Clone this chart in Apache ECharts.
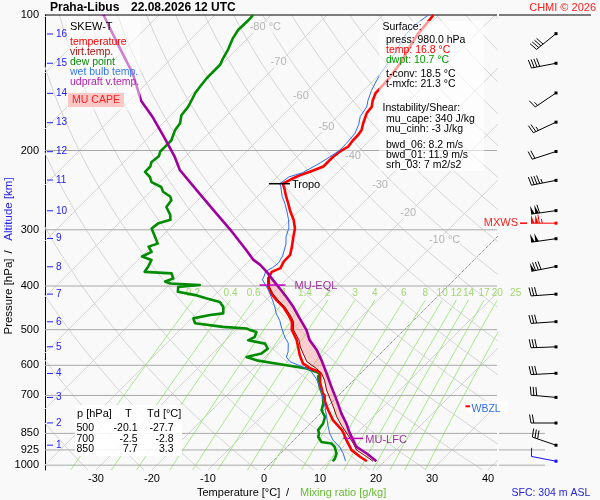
<!DOCTYPE html>
<html>
<head>
<meta charset="utf-8">
<script src="https://cdn.jsdelivr.net/npm/echarts@6.0.0/dist/echarts.min.js"></script>
<style>
html,body{margin:0;padding:0;background:#f9f9f9;}
#chart{width:600px;height:500px;}
</style>
</head>
<body>
<div id="chart"></div>
<script>
// ================= DATA =================
// temperature profile [hPa] / [°C]
const tempP = [980,958,926,880,850,836,794,755,723,700,692,657,624,617,611,594,570,546,527,500,480,464,445,430,416,401,384,372,365,353,341,327,311,298,285,273,262,253,245,237,232,227,223,217,207,201,196,190,185,180,174,165,160,155,149,147,137,128,118,110,104,100];
const tempT = [16.8,14.8,12.1,9.4,7.7,6.8,3.4,0.8,-1.3,-2.5,-3.2,-5.5,-7.3,-8.3,-9.7,-12.1,-14.1,-15.9,-17.4,-20.1,-21.5,-23.3,-25.7,-28.1,-30.2,-32.0,-33.5,-34.0,-33.1,-33.7,-33.75,-34.9,-36.4,-37.6,-39.4,-41.5,-43.3,-44.9,-46.25,-47.75,-47.1,-46.25,-45.05,-43.6,-43.6,-43.3,-42.7,-43.0,-43.0,-43.3,-44.2,-45.4,-45.6,-46.55,-47.4,-47.4,-47.7,-48.3,-49.5,-50.4,-50.7,-51.0];
// virtual temperature (lower troposphere)
const tvP = [980,958,926,895,858,815,781,742,711,681,648,625,610,589,565,546,527,500,480,464,445,430,416,401,384,376];
const tvT = [17.9,16.0,13.0,11.2,8.8,5.8,3.5,1.1,-1.0,-3.1,-5.2,-7.0,-8.75,-11.7,-13.8,-15.5,-17.0,-19.8,-21.2,-23.0,-25.4,-27.8,-29.9,-31.8,-33.4,-33.9];
// dew point
const dewP = [980,966,942,911,895,888,865,850,836,808,781,755,729,700,670,636,625,610,600,585,575,565,551,537,528,519,506,500,497,493,484,472,464,460,445,434,426,419,412,402,398,395,391,385,375,372,362,350,344,336,327,322,311,298,290,285,278,267,258,253,247,241,235,229,223,217,212,206,201,196,190,180,174,167,160,157,149,144,138,134,129,125,120,113,108,103,100];
const dewT = [10.7,10.6,10.0,8.5,7.3,5.25,3.75,3.3,2.55,2.25,1.4,-0.4,-1.3,-2.8,-4.9,-7.0,-7.3,-10.5,-14.7,-20.9,-23.3,-21.25,-21.0,-22.4,-26.0,-25.4,-26.0,-27.7,-28.4,-32.9,-38.5,-39.7,-37.3,-35.25,-36.4,-37.9,-41.0,-43.5,-47.2,-48.0,-44.5,-50.0,-51.3,-50.4,-51.6,-56.7,-57.0,-57.6,-59.9,-59.0,-60.5,-59.4,-61.1,-63.2,-62.9,-61.4,-62.3,-64.4,-64.7,-65.6,-67.7,-68.9,-71.5,-72.7,-74.5,-74.5,-75.1,-74.8,-75.4,-75.4,-75.4,-76.6,-76.9,-78.1,-78.4,-78.7,-79.6,-79.9,-80.2,-80.2,-80.2,-80.8,-81.4,-82.6,-83.2,-83.1,-83.2];
// wet bulb temperature
const wbP = [980,942,911,880,850,815,781,742,717,687,642,615,600,589,575,560,536,519,497,477,461,442,423,408,397,387,380,371,364,355,343,323,311,297,285,273,262,253,240,237,229,224,213,207,200,193,183,175,168,160,155,147,142,134,125,110,105,100];
const wbT = [13.0,11.2,9.4,7.0,5.2,3.4,1.7,-0.4,-1.9,-3.7,-7.0,-9.6,-12.5,-14.7,-16.2,-16.8,-18.3,-20.05,-22.1,-23.9,-25.7,-27.5,-29.6,-31.4,-32.9,-34.3,-34.6,-35.2,-34.6,-34.4,-34.9,-36.4,-37.7,-38.8,-40.3,-42.1,-43.9,-45.6,-47.7,-48.3,-47.9,-46.2,-44.8,-44.2,-43.6,-43.6,-43.9,-44.8,-45.95,-46.5,-47.4,-48.6,-49.2,-50.1,-50.7,-52.5,-52.5,-51.9];
// MU updraft virtual temperature
const parcelP = [980,942,911,880,850,808,768,717,670,625,585,555,528,501,472,445,423,405,388,372,359,350,333,300,271,245,221,206,186,168,155,135,114,100];
const parcelT = [18.5,15.4,12.4,10.6,8.8,6.4,3.75,0.5,-2.8,-6.1,-9.3,-12.0,-15.0,-17.4,-20.7,-23.9,-26.9,-29.6,-32.3,-34.9,-37.3,-39.4,-42.4,-48.9,-55.5,-62.0,-68.6,-72.0,-77.5,-83.1,-87.9,-94.2,-103.1,-109.9];
// levels
const lfcP = 872, lfcT = 10.3;
const eqlP = 398, eqlT = -31.5;
const capeTopP = 380;
const tropoP = 237, tropoT = -47.75;
const wbzlP = 740;
// winds (knots)
const windP   = [980,903,806,707,625,546,480,417,362,314,290,272,233,201,173,149,128,110];
const windDir = [281,289,270,275,267,268,266,266,259,262,270,262,259,252,245,236,259,231];
const windSpd = [10,30,20,30,30,30,30,30,80,100,115,110,45,20,25,15,40,40];
const windKind= [2,0,0,0,0,0,0,0,0,0,1,0,0,0,0,0,0,0];
// axes / reference
const pressTicks = [100,200,300,400,500,600,700,850,925,1000];
const tempTicks = [-30,-20,-10,0,10,20,30,40];
const altKm = [1,2,3,4,5,6,7,8,9,10,11,12,13,14,15,16];
const altP  = [902.8,805.6,707.3,625.5,545.8,480.3,416.9,362.5,313.6,272.2,232.6,201.2,173.5,149.3,128.0,110.2];
const mixRatios = [0.2,0.4,0.6,1,1.4,2,3,4,6,8,10,12,14,17,20,25];
const isoLabT = [-80,-70,-60,-50,-40,-30,-20,-10];
const isoLabP = [106.5,127.4,151.4,177.0,205.7,238.5,275.0,316.2];
const isoLabText = ['-80 °C','-70','-60','-50','-40','-30','-20','-10 °C'];

// ================= GEOMETRY =================
const PT = 100, PB = 1025;
const XMIN = -39.107, XMAX = 41.607;
const SKEW = 80.39;
const STATION_X = 56;
const FONT = 'Liberation Sans, Arial, Helvetica, sans-serif';
function sx(T, p) { return T + SKEW * Math.log10(PB / p); }
function pair(P, T) { return P.map((p, i) => [sx(T[i], p), p]); }
function interpLog(P, T, p) {
  for (let i = 0; i < P.length - 1; i++) {
    if (P[i] >= p && P[i + 1] <= p) {
      const f = (Math.log(P[i]) - Math.log(p)) / (Math.log(P[i]) - Math.log(P[i + 1]));
      return T[i] + f * (T[i + 1] - T[i]);
    }
  }
  return T[T.length - 1];
}
function tdFromW(w, p) { const e = w * p / (622 + w); const l = Math.log(e / 6.112); return 243.5 * l / (17.67 - l); }

const series = [];
function bg(data, color, width, type, z, clip, gi) {
  series.push({ type: 'line', xAxisIndex: gi || 0, yAxisIndex: gi || 0, data, symbol: 'none', silent: true, clip: clip !== false, z,
    lineStyle: { color, width, type: type || 'solid' } });
}
// isotherms
for (let T = -120; T <= 40; T += 10) {
  bg([[sx(T, PB), PB], [sx(T, PT), PT]], T === 0 ? '#6a6a6a' : '#d4d4d4', 1, T === 0 ? 'dotted' : 'solid', 1);
}
// dry adiabats
for (let th = 230; th <= 470; th += 10) {
  const d = [];
  for (let p = PB; p > PT; p *= 0.96) d.push([sx(th * Math.pow(p / 1000, 0.2857) - 273.15, p), p]);
  d.push([sx(th * Math.pow(PT / 1000, 0.2857) - 273.15, PT), PT]);
  bg(d, '#d4d4d4', 1, 'solid', 1);
}
// mixing ratio lines
const MIX_TOP = 430;
mixRatios.forEach(w => {
  const d = [PB, 1000, 950, 900, 850, 800, 750, 700, 650, 600, 550, 500, 460, MIX_TOP].map(p => [sx(tdFromW(w, p), p), p]);
  bg(d, '#a6ea88', 1, 'solid', 1, false);
});
series.push({ type: 'scatter', data: mixRatios.map(w => [sx(tdFromW(w, MIX_TOP), MIX_TOP), MIX_TOP, w]), symbolSize: 1,
  itemStyle: { color: 'rgba(0,0,0,0)' }, clip: false, silent: true, z: 2,
  label: { show: true, position: 'top', distance: 1, formatter: p => String(p.value[2]), color: '#8ccd4e', fontSize: 10, fontFamily: FONT } });
// isotherm labels
series.push({ type: 'scatter', data: isoLabT.map((T, i) => [sx(T, isoLabP[i]), isoLabP[i], i]), symbolSize: 1,
  itemStyle: { color: 'rgba(0,0,0,0)' }, silent: true, z: 2,
  label: { show: true, position: 'inside', align: 'left', offset: [-9, 0], formatter: p => isoLabText[p.value[2]],
    color: '#a4a4a4', fontSize: 11, fontFamily: FONT, backgroundColor: '#f9f9f9' } });
// isobars
pressTicks.forEach(p => bg([[XMIN, p], [XMAX, p]], p === PT ? '#000' : '#a8a8a8', 1, 'solid', 2, false));
[850, 925, 1000].forEach(p => bg([[-3, p], [45, p]], '#a8a8a8', 1, 'solid', 2, false, 1));
bg([[-3, PT], [91, PT]], '#000', 1, 'solid', 2, false, 1);

// CAPE fill
const capeLevels = Array.from(new Set(parcelP.concat(tvP).filter(p => p < lfcP && p > capeTopP).concat([lfcP, capeTopP]))).sort((a, b) => b - a);
series.push({ type: 'custom', data: [[sx(0, 500), 500]], z: 3, silent: true,
  renderItem: (params, api) => {
    const pts = [];
    capeLevels.forEach(p => pts.push(api.coord([sx(interpLog(parcelP, parcelT, p), p), p])));
    capeLevels.slice().reverse().forEach(p => pts.push(api.coord([sx(interpLog(tvP, tvT, p), p), p])));
    return { type: 'polygon', shape: { points: pts }, style: { fill: 'rgba(255,150,150,0.42)' } };
  } });

// profiles
function prof(P, T, color, width, z) {
  series.push({ type: 'line', data: pair(P, T), symbol: 'none', z, silent: true, lineStyle: { color, width, join: 'round' } });
}
prof(dewP, dewT, '#008c00', 2.6, 5);
prof(tempP, tempT, '#ff0000', 2.6, 6);
prof(tvP, tvT, '#8b0000', 1, 7);
prof(wbP, wbT, '#2a6cf5', 1, 7);
prof(parcelP, parcelT, '#a000a0', 2.6, 8);

// level markers
function marker(T, p, x0, x1, text, lineColor, textColor, tdx, tdy) {
  series.push({ type: 'custom', data: [[sx(T, p), p]], z: 9, silent: true, clip: false,
    renderItem: (params, api) => {
      const c = api.coord([api.value(0), api.value(1)]);
      return { type: 'group', children: [
        { type: 'line', shape: { x1: c[0] + x0, y1: c[1], x2: c[0] + x1, y2: c[1] }, style: { stroke: lineColor, lineWidth: 1.5 } },
        { type: 'text', x: c[0] + tdx, y: c[1] + tdy, style: { text, fill: textColor, fontSize: 11, fontFamily: FONT, align: 'left', verticalAlign: 'middle', textAlign: 'left', textVerticalAlign: 'middle' } }
      ] };
    } });
}
marker(tropoT, tropoP, -14, 7, 'Tropo', '#000', '#000', 9, 1.5);
marker(eqlT, eqlP, -13, 13, 'MU-EQL', '#c000c0', '#a030a0', 22, 0.5);
marker(lfcT, lfcP, -10, 10, 'MU-LFC', '#c000c0', '#a030a0', 12, 1.7);

// WBZL
series.push({ type: 'custom', data: [[XMAX, wbzlP]], z: 9, silent: true, clip: false,
  renderItem: (params, api) => {
    const c = api.coord([api.value(0), api.value(1)]);
    return { type: 'group', children: [
      { type: 'rect', shape: { x: c[0] - 30, y: c[1] - 5, width: 41, height: 11.5 }, style: { fill: '#ffffff' } },
      { type: 'line', shape: { x1: c[0] - 31.5, y1: c[1], x2: c[0] - 27, y2: c[1] }, style: { stroke: '#ff0000', lineWidth: 2 } },
      { type: 'text', x: c[0] - 25.5, y: c[1] + 2.5, style: { text: 'WBZL', fill: '#2f6fe0', fontSize: 10.5, fontFamily: FONT, align: 'left', verticalAlign: 'middle', textAlign: 'left', textVerticalAlign: 'middle' } }
    ] };
  } });

// altitude ticks
series.push({ type: 'custom', data: altP.map((p, i) => [XMIN, p, altKm[i]]), z: 9, silent: true, clip: false,
  renderItem: (params, api) => {
    const c = api.coord([api.value(0), api.value(1)]);
    return { type: 'group', children: [
      { type: 'line', shape: { x1: c[0] + 2, y1: c[1], x2: c[0] + 8, y2: c[1] }, style: { stroke: '#2020ff', lineWidth: 1 } },
      { type: 'text', x: c[0] + 11, y: c[1], style: { text: String(api.value(2)), fill: '#2020ff', fontSize: 10, fontFamily: FONT, align: 'left', verticalAlign: 'middle', textAlign: 'left', textVerticalAlign: 'middle' } }
    ] };
  } });

// wind barbs
series.push({ type: 'custom', xAxisIndex: 1, yAxisIndex: 1, z: 9, silent: true, clip: false,
  data: windP.map((p, i) => [STATION_X, p, windDir[i], windSpd[i], windKind[i]]),
  renderItem: (params, api) => {
    const c = api.coord([api.value(0), api.value(1)]);
    const dir = api.value(2), spd = api.value(3), kind = api.value(4);
    const col = kind === 1 ? '#ff0000' : (kind === 2 ? '#1010ff' : '#000000');
    const r = dir * Math.PI / 180;
    const ux = Math.sin(r), uy = -Math.cos(r);
    const nx = -uy, ny = ux;
    const L = 25, BL = 8.5, SP = 2.8, PW = 3.4;
    const ex = c[0] + ux * L, ey = c[1] + uy * L;
    const ch = [];
    ch.push({ type: 'line', shape: { x1: c[0], y1: c[1], x2: ex, y2: ey }, style: { stroke: col, lineWidth: 1 } });
    ch.push({ type: 'rect', shape: { x: c[0] - 1.5, y: c[1] - 1.5, width: 3, height: 3 }, style: { fill: col } });
    let s = Math.round(spd / 5) * 5, d = 0;
    while (s >= 50) {
      const ax = ex - ux * d, ay = ey - uy * d;
      const bx = ex - ux * (d + PW), by = ey - uy * (d + PW);
      ch.push({ type: 'polygon', shape: { points: [[ax, ay], [ax + nx * BL, ay + ny * BL], [bx, by]] }, style: { fill: col } });
      d += PW + 0.8; s -= 50;
    }
    while (s >= 10) {
      const bx = ex - ux * d, by = ey - uy * d;
      ch.push({ type: 'line', shape: { x1: bx, y1: by, x2: bx + nx * BL + ux * 1.5, y2: by + ny * BL + uy * 1.5 }, style: { stroke: col, lineWidth: 1 } });
      d += SP; s -= 10;
    }
    if (s >= 5) {
      if (d === 0) d = SP;
      const bx = ex - ux * d, by = ey - uy * d;
      ch.push({ type: 'line', shape: { x1: bx, y1: by, x2: bx + nx * BL * 0.5 + ux * 0.8, y2: by + ny * BL * 0.5 + uy * 0.8 }, style: { stroke: col, lineWidth: 1 } });
    }
    if (kind === 1) {
      ch.push({ type: 'line', shape: { x1: c[0] - 36, y1: c[1], x2: c[0] - 29, y2: c[1] }, style: { stroke: '#ff0000', lineWidth: 1.5 } });
      ch.push({ type: 'text', x: c[0] - 38, y: c[1], style: { text: 'MXWS', fill: '#ff2020', fontSize: 11, fontFamily: FONT, align: 'right', verticalAlign: 'middle', textAlign: 'right', textVerticalAlign: 'middle' } });
    }
    return { type: 'group', children: ch };
  } });

// ================= ANNOTATIONS =================
function txt(x, y, text, fill, size, extra) {
  return Object.assign({ type: 'text', x, y, z: 101,
    style: Object.assign({ text, fill, fontSize: size, fontFamily: FONT, align: 'left', verticalAlign: 'middle', textAlign: 'left', textVerticalAlign: 'middle' }, (extra && extra.style) || {}) },
    (extra && extra.el) || {});
}
const graphics = [
  // legend box
  { type: 'rect', z: 100, shape: { x: 67, y: 16, width: 73, height: 94 }, style: { fill: 'rgba(255,255,255,0.5)' } },
  txt(70, 26.5, 'SKEW-T', '#000', 11),
  txt(70, 42.3, 'temperature', '#ff0000', 10.5),
  txt(70, 52.3, 'virt.temp.', '#a01010', 10.5),
  txt(70, 62.2, 'dew point', '#0a8a0a', 10.5),
  txt(70, 72.2, 'wet bulb temp.', '#3377ee', 10.5),
  txt(70, 82.2, 'udpraft v.temp.', '#b020b0', 10.5),
  { type: 'rect', z: 100, shape: { x: 68, y: 93, width: 56, height: 14 }, style: { fill: '#ffc6c6' } },
  txt(96, 100.5, 'MU CAPE', '#ff2020', 10.5, { style: { align: 'center', textAlign: 'center' } }),
  // stats box
  { type: 'rect', z: 100, shape: { x: 379, y: 21, width: 105, height: 150 }, style: { fill: 'rgba(255,255,255,0.6)' } },
  txt(382.5, 27.3, 'Surface:', '#000', 10.5),
  txt(386, 40, 'press: 980.0 hPa', '#000', 10.5),
  txt(386, 50, 'temp: 16.8 °C', '#ff0000', 10.5),
  txt(386, 60, 'dwpt: 10.7 °C', '#009900', 10.5),
  txt(386, 74, 't-conv: 18.5 °C', '#000', 10.5),
  txt(386, 84, 't-mxfc: 21.3 °C', '#000', 10.5),
  txt(382.5, 108.3, 'Instability/Shear:', '#000', 10.5),
  txt(386, 119.5, 'mu_cape: 340 J/kg', '#000', 10.5),
  txt(386, 129.5, 'mu_cinh: -3 J/kg', '#000', 10.5),
  txt(386, 145, 'bwd_06: 8.2 m/s', '#000', 10.5),
  txt(386, 155, 'bwd_01: 11.9 m/s', '#000', 10.5),
  txt(386, 165, 'srh_03: 7 m2/s2', '#000', 10.5),
  // table box
  { type: 'rect', z: 100, shape: { x: 75, y: 405, width: 107, height: 51 }, style: { fill: 'rgba(255,255,255,0.88)' } },
  txt(77, 413.5, 'p [hPa]', '#000', 11),
  txt(125, 413.5, 'T', '#000', 11),
  txt(147, 413.5, 'Td [°C]', '#000', 11),
  txt(94, 428.3, '500', '#000', 10.5, { style: { align: 'right', textAlign: 'right' } }),
  txt(137.5, 428.3, '-20.1', '#000', 10.5, { style: { align: 'right', textAlign: 'right' } }),
  txt(173.5, 428.3, '-27.7', '#000', 10.5, { style: { align: 'right', textAlign: 'right' } }),
  txt(94, 438.8, '700', '#000', 10.5, { style: { align: 'right', textAlign: 'right' } }),
  txt(137.5, 438.8, '-2.5', '#000', 10.5, { style: { align: 'right', textAlign: 'right' } }),
  txt(173.5, 438.8, '-2.8', '#000', 10.5, { style: { align: 'right', textAlign: 'right' } }),
  txt(94, 449.2, '850', '#000', 10.5, { style: { align: 'right', textAlign: 'right' } }),
  txt(137.5, 449.2, '7.7', '#000', 10.5, { style: { align: 'right', textAlign: 'right' } }),
  txt(173.5, 449.2, '3.3', '#000', 10.5, { style: { align: 'right', textAlign: 'right' } }),
  // titles
  txt(50, 8, 'Praha-Libus', '#000', 12, { style: { fontWeight: 'bold' } }),
  txt(131, 8, '22.08.2026 12 UTC', '#000', 12, { style: { fontWeight: 'bold' } }),
  txt(596, 7.5, 'CHMI © 2026', '#ff2020', 11, { style: { align: 'right', textAlign: 'right' } }),
  txt(197, 493, 'Temperature [°C]', '#000', 11),
  txt(286, 493, '/', '#000', 11),
  txt(300, 493, 'Mixing ratio [g/kg]', '#66bb33', 11),
  txt(511.5, 493, 'SFC: 304 m ASL', '#2222dd', 10.5),
  txt(9, 296.5, 'Pressure [hPa]', '#000', 11.5, { style: { align: 'center', textAlign: 'center' }, el: { rotation: Math.PI / 2 } }),
  txt(9, 252, '/', '#000', 11.5, { style: { align: 'center', textAlign: 'center' }, el: { rotation: Math.PI / 2 } }),
  txt(9, 209, 'Altitude [km]', '#2222ee', 11.5, { style: { align: 'center', textAlign: 'center' }, el: { rotation: Math.PI / 2 } })
];

const option = {
  animation: false,
  backgroundColor: '#f9f9f9',
  textStyle: { fontFamily: FONT },
  grid: [
    { left: 45, top: 15, width: 452, height: 455 },
    { left: 500, top: 15, width: 100, height: 455 }
  ],
  xAxis: [
    { gridIndex: 0, type: 'value', min: XMIN, max: XMAX,
      axisLine: { show: false, onZero: false }, axisTick: { show: false }, splitLine: { show: false },
      axisLabel: { customValues: tempTicks, fontSize: 11, color: '#000', margin: 3, fontFamily: FONT, formatter: v => String(v) } },
    { gridIndex: 1, type: 'value', min: 0, max: 100, show: false }
  ],
  yAxis: [
    { gridIndex: 0, type: 'log', logBase: 10, min: PT, max: PB, inverse: true,
      axisLine: { show: true, onZero: false, lineStyle: { color: '#000', width: 1 } }, axisTick: { show: false }, splitLine: { show: false },
      axisLabel: { customValues: pressTicks, fontSize: 11, color: '#000', margin: 6, fontFamily: FONT, formatter: v => String(Math.round(v)) } },
    { gridIndex: 1, type: 'log', logBase: 10, min: PT, max: PB, inverse: true, show: false }
  ],
  series,
  graphic: { elements: graphics }
};
const chart = echarts.init(document.getElementById('chart'), null, { renderer: 'canvas' });
chart.setOption(option);
</script>
</body>
</html>
